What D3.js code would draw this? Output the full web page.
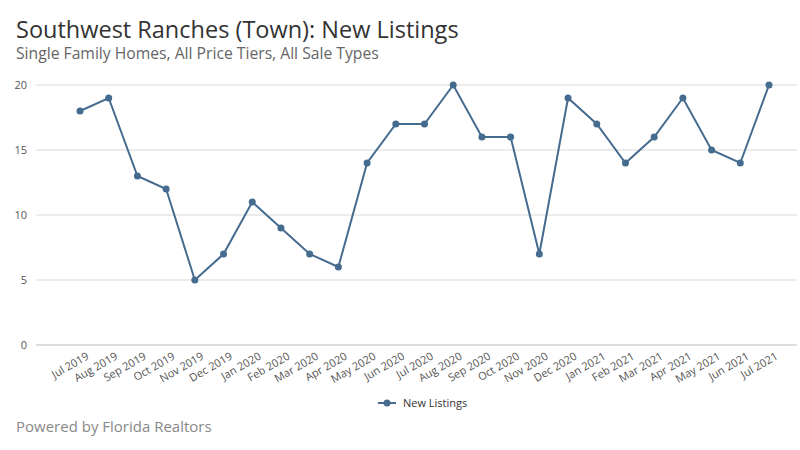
<!DOCTYPE html>
<html>
<head>
<meta charset="utf-8">
<script src="https://cdn.jsdelivr.net/npm/d3@7"></script>
<style>
body { margin: 0; background: #fff; }
text { font-family: "Open Sans", Roboto, sans-serif; }
</style>
</head>
<body>
<svg id="chart" width="800" height="450"></svg>
<script>
// data
var months = ["Jul 2019","Aug 2019","Sep 2019","Oct 2019","Nov 2019","Dec 2019",
  "Jan 2020","Feb 2020","Mar 2020","Apr 2020","May 2020","Jun 2020","Jul 2020",
  "Aug 2020","Sep 2020","Oct 2020","Nov 2020","Dec 2020","Jan 2021","Feb 2021",
  "Mar 2021","Apr 2021","May 2021","Jun 2021","Jul 2021"];
var newListings = [18,19,13,12,5,7,11,9,7,6,14,17,17,20,16,16,7,19,17,14,16,19,15,14,20];
var yTicks = [0,5,10,15,20];

var svg = d3.select("#chart"),
  color = "#456b8f";

var x = d3.scalePoint().domain(months).range([80, 769]);
var y = d3.scaleLinear().domain([0, 20]).range([345, 85]);

svg.append("text").attr("x", 16).attr("y", 38).attr("font-size", 23.5).attr("fill", "#333")
  .text("Southwest Ranches (Town): New Listings");
svg.append("text").attr("x", 16).attr("y", 59).attr("font-size", 15.7).attr("fill", "#666")
  .text("Single Family Homes, All Price Tiers, All Sale Types");

// grid
svg.append("g").selectAll("line").data(yTicks).join("line")
  .attr("x1", 36).attr("x2", 797)
  .attr("y1", d => y(d)).attr("y2", d => y(d))
  .attr("stroke", d => d === 0 ? "#bbb" : "#d9d9d9");

var yAxis = svg.append("g").attr("transform", "translate(30,0)")
  .call(d3.axisLeft(y).tickValues(yTicks).tickSize(0));
yAxis.select(".domain").remove();
yAxis.selectAll("text").attr("font-size", 11).attr("fill", "#555").attr("font-family", "Open Sans, sans-serif");

var xAxis = svg.append("g").attr("transform", "translate(0,345)")
  .call(d3.axisBottom(x).tickSize(0));
xAxis.select(".domain").remove();
xAxis.selectAll("text")
  .attr("font-size", 11).attr("fill", "#555").attr("font-family", "Open Sans, sans-serif")
  .attr("text-anchor", "end")
  .attr("dy", "0.3em").attr("dx", "0em")
  .attr("transform", "translate(6,8) rotate(-30)");

svg.append("path").datum(newListings)
  .attr("fill", "none").attr("stroke", color).attr("stroke-width", 2)
  .attr("d", d3.line().x((d, i) => x(months[i])).y(d => y(d)));

svg.append("g").selectAll("circle").data(newListings).join("circle")
  .attr("cx", (d, i) => x(months[i])).attr("cy", d => y(d))
  .attr("r", 3.5).attr("fill", color);

// legend
var lg = svg.append("g").attr("transform", "translate(378,403)");
lg.append("line").attr("x1", 0).attr("x2", 18).attr("stroke", color).attr("stroke-width", 2);
lg.append("circle").attr("cx", 9).attr("r", 3.5).attr("fill", color);
lg.append("text").attr("x", 25).attr("y", 4).attr("font-size", 11).attr("fill", "#333").text("New Listings");

svg.append("text").attr("x", 16).attr("y", 432).attr("font-size", 15).attr("fill", "#888")
  .text("Powered by Florida Realtors");
</script>
</body>
</html>
